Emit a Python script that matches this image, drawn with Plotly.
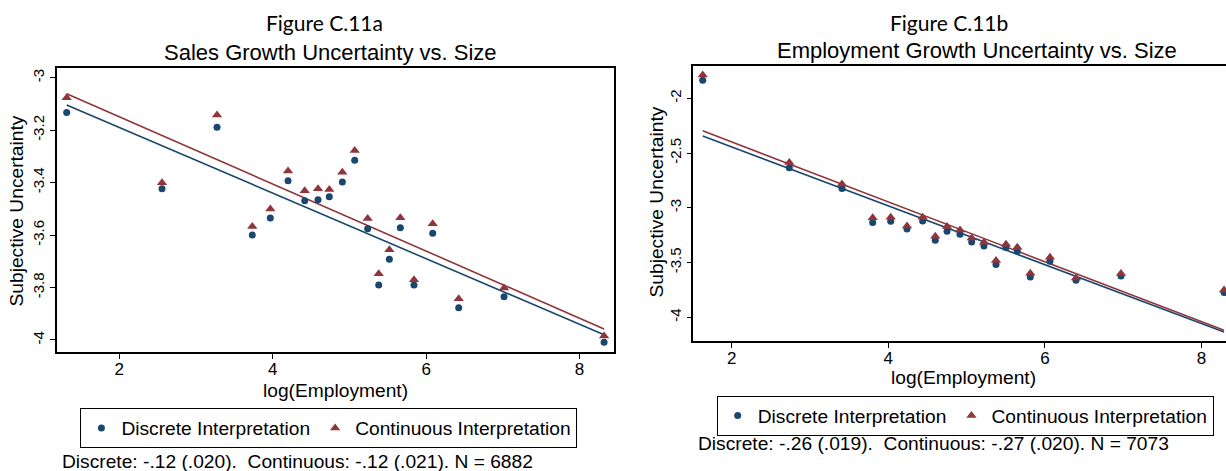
import plotly.graph_objects as go

# ---------------- data ----------------
# Figure C.11a : Sales growth uncertainty vs size
x_a = [1.314, 2.557, 3.274, 3.734, 3.969, 4.200, 4.417, 4.591, 4.738, 4.908,
       5.069, 5.238, 5.382, 5.521, 5.664, 5.842, 6.086, 6.425, 7.016, 8.320]
disc_a = [-3.133, -3.423, -3.189, -3.600, -3.535, -3.393, -3.469, -3.465, -3.454, -3.398,
          -3.315, -3.576, -3.790, -3.692, -3.572, -3.790, -3.593, -3.877, -3.835, -4.009]
cont_a = [-3.076, -3.400, -3.142, -3.567, -3.501, -3.356, -3.431, -3.423, -3.426, -3.360,
          -3.277, -3.537, -3.747, -3.656, -3.534, -3.770, -3.557, -3.843, -3.802, -3.985]
fit_a_disc = (-2.940, -0.125)   # intercept, slope
fit_a_cont = (-2.893, -0.128)

# Figure C.11b : Employment growth uncertainty vs size
x_b = [1.630, 2.736, 3.409, 3.801, 4.031, 4.239, 4.439, 4.600, 4.750, 4.916,
       5.065, 5.222, 5.376, 5.503, 5.648, 5.814, 6.065, 6.397, 6.972, 8.288]
disc_b = [-1.835, -2.634, -2.823, -3.134, -3.122, -3.192, -3.119, -3.295, -3.213, -3.240,
          -3.311, -3.347, -3.517, -3.362, -3.396, -3.631, -3.487, -3.661, -3.622, -3.773]
cont_b = [-1.787, -2.585, -2.781, -3.091, -3.085, -3.165, -3.085, -3.259, -3.170, -3.201,
          -3.274, -3.314, -3.481, -3.332, -3.359, -3.597, -3.451, -3.640, -3.600, -3.750]
fit_b_disc = (-1.907, -0.2685)
fit_b_cont = (-1.851, -0.2735)

xtick_vals = [2, 4, 6, 8]
xtick_text = ["2", "4", "6", "8"]
ytick_vals_a = [-4, -3.8, -3.6, -3.4, -3.2, -3]
ytick_text_a = ["-4", "-3.8", "-3.6", "-3.4", "-3.2", "-3"]
ytick_vals_b = [-4, -3.5, -3, -2.5, -2]
ytick_text_b = ["-4", "-3.5", "-3", "-2.5", "-2"]

series_names = ["Discrete Interpretation", "Continuous Interpretation"]
fig_labels = ["Figure C.11a", "Figure C.11b"]
titles = ["Sales Growth Uncertainty vs. Size", "Employment Growth Uncertainty vs. Size"]
x_title = "log(Employment)"
y_title = "Subjective Uncertainty"
notes = ["Discrete: -.12 (.020).\u00a0 Continuous: -.12 (.021). N = 6882",
         "Discrete: -.26 (.019).\u00a0 Continuous: -.27 (.020). N = 7073"]

# ---------------- style ----------------
W, H = 1226, 471
NAVY = "#1a476f"
MAROON = "#90353b"
FONT = "Liberation Sans, Arial, Helvetica, sans-serif"
CAL = "Lato, Open Sans, sans-serif"
TXT = 19.2


def px(x):
    return x / W


def py(y):
    return 1 - y / H


fig = go.Figure()


def add_panel(xs, d, c, fd, fc, xa, ya, legend):
    xl = [min(xs), max(xs)]
    fig.add_trace(go.Scatter(x=xl, y=[fd[0] + fd[1] * v for v in xl], mode="lines",
                             line=dict(color=NAVY, width=1.6), showlegend=False,
                             xaxis=xa, yaxis=ya, hoverinfo="skip"))
    fig.add_trace(go.Scatter(x=xl, y=[fc[0] + fc[1] * v for v in xl], mode="lines",
                             line=dict(color=MAROON, width=1.6), showlegend=False,
                             xaxis=xa, yaxis=ya, hoverinfo="skip"))
    fig.add_trace(go.Scatter(x=xs, y=d, mode="markers", name=series_names[0],
                             marker=dict(symbol="circle", size=7, color=NAVY),
                             xaxis=xa, yaxis=ya, legend=legend, cliponaxis=False))
    fig.add_trace(go.Scatter(x=xs, y=c, mode="markers", name=series_names[1],
                             marker=dict(symbol="triangle-up", size=9, color=MAROON),
                             xaxis=xa, yaxis=ya, legend=legend, cliponaxis=False))


add_panel(x_a, disc_a, cont_a, fit_a_disc, fit_a_cont, "x", "y", "legend")
add_panel(x_b, disc_b, cont_b, fit_b_disc, fit_b_cont, "x2", "y2", "legend2")

axis_common = dict(showgrid=False, zeroline=False, showline=True, linecolor="black",
                   linewidth=1.5, ticks="outside", ticklen=5, tickcolor="black",
                   tickwidth=1.2, tickfont=dict(family=FONT, size=17, color="black"))
ytickfont = dict(family=FONT, size=15, color="black")

fig.update_layout(
    width=W, height=H,
    margin=dict(l=0, r=0, t=0, b=0),
    paper_bgcolor="white", plot_bgcolor="white",
    font=dict(family=FONT, color="black"),
    xaxis=dict(domain=[px(56.7), px(613.5)], range=[1.184, 8.443],
               tickvals=xtick_vals, ticktext=xtick_text, mirror=True, anchor="y",
               ticklabelstandoff=-4, **axis_common),
    yaxis=dict(domain=[py(352.3), py(68.3)], range=[-4.047, -2.964],
               tickvals=ytick_vals_a, ticktext=ytick_text_a, tickangle=-90, mirror=True,
               anchor="x", **{**axis_common, "tickfont": ytickfont}),
    xaxis2=dict(domain=[px(693.3), 1.0], range=[1.51, 8.313],
                tickvals=xtick_vals, ticktext=xtick_text, mirror=True, anchor="y2",
                ticklabelstandoff=-4, **axis_common),
    yaxis2=dict(domain=[py(341.3), py(65.7)], range=[-4.218, -1.702],
                tickvals=ytick_vals_b, ticktext=ytick_text_b, tickangle=-90,
                anchor="x2", **{**axis_common, "tickfont": ytickfont}),
    legend=dict(orientation="h", x=px(80.4), y=py(408), xanchor="left", yanchor="top",
                bordercolor="black", borderwidth=1, bgcolor="white",
                font=dict(family=FONT, size=TXT, color="black")),
    legend2=dict(orientation="h", x=px(716.7), y=py(395.5), xanchor="left", yanchor="top",
                 bordercolor="black", borderwidth=1, bgcolor="white",
                 font=dict(family=FONT, size=TXT, color="black")),
)

ann = []


def text(t, x, y, size, family=FONT, xanchor="center", angle=0):
    ann.append(dict(text=t, x=px(x), y=py(y), xref="paper", yref="paper",
                    xanchor=xanchor, yanchor="middle", showarrow=False, textangle=angle,
                    font=dict(family=family, size=size, color="black")))


text(fig_labels[0], 324, 23, 21, CAL)
text(titles[0], 330.8, 53, 22)
text(fig_labels[1], 949, 23, 21, CAL)
text(titles[1], 976.7, 50.5, 22)
text(x_title, 335, 390, TXT)
text(x_title, 963, 377.5, TXT)
text(y_title, 16.7, 210.8, TXT, angle=-90)
text(y_title, 656, 202.5, TXT, angle=-90)
text(notes[0], 60, 461, TXT, xanchor="left")
text(notes[1], 696, 443.5, TXT, xanchor="left")

fig.update_layout(annotations=ann)
fig.write_html("out.html", config={"displayModeBar": False},
               post_script="document.body.style.margin='0';document.body.style.overflow='hidden';")
